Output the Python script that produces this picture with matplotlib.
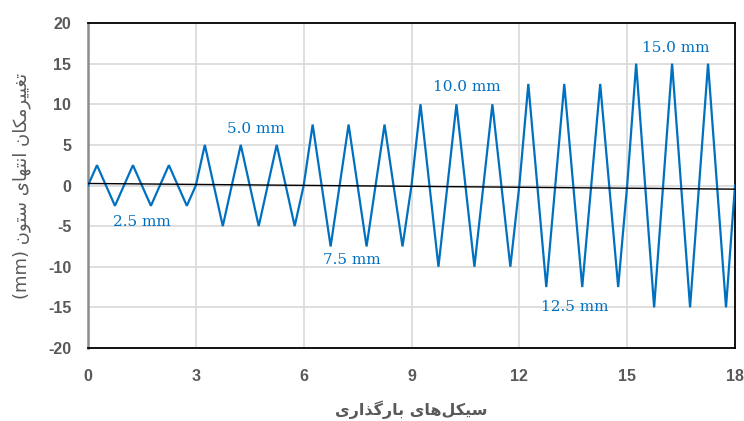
import matplotlib
matplotlib.use("Agg")
import matplotlib.pyplot as plt

plt.rcParams['axes.unicode_minus'] = False

# ---------------- data ----------------
cycle_amplitudes = [2.5, 2.5, 2.5, 5.0, 5.0, 5.0, 7.5, 7.5, 7.5,
                    10.0, 10.0, 10.0, 12.5, 12.5, 12.5, 15.0, 15.0, 15.0]
drift_x = [0, 18]
drift_y = [0.25, -0.45]
label_texts = ["2.5 mm", "5.0 mm", "7.5 mm", "10.0 mm", "12.5 mm", "15.0 mm"]
label_x = [1.5, 4.68, 7.34, 10.55, 13.54, 16.36]
label_y = [-4.45, 6.9, -9.2, 12.1, -14.9, 16.9]
xticks = [0, 3, 6, 9, 12, 15, 18]
yticks = [-20, -15, -10, -5, 0, 5, 10, 15, 20]

# waveform: each cycle 0 -> +A -> 0 -> -A, ending at 0
wx, wy = [], []
for i, a in enumerate(cycle_amplitudes):
    for k, v in enumerate([0, a, 0, -a]):
        wx.append(i + k * 0.25)
        wy.append(v)
wx.append(len(cycle_amplitudes))
wy.append(0)

# ---------------- simple Persian shaping ----------------
FORMS = {
    'ا': ('\uFE8D', '\uFE8E', None, None),
    'ب': ('\uFE8F', '\uFE90', '\uFE91', '\uFE92'),
    'ت': ('\uFE95', '\uFE96', '\uFE97', '\uFE98'),
    'ذ': ('\uFEAB', '\uFEAC', None, None),
    'ر': ('\uFEAD', '\uFEAE', None, None),
    'ز': ('\uFEAF', '\uFEB0', None, None),
    'س': ('\uFEB1', '\uFEB2', '\uFEB3', '\uFEB4'),
    'غ': ('\uFECD', '\uFECE', '\uFECF', '\uFED0'),
    'ک': ('\uFB8E', '\uFB8F', '\uFB90', '\uFB91'),
    'گ': ('\uFB92', '\uFB93', '\uFB94', '\uFB95'),
    'ل': ('\uFEDD', '\uFEDE', '\uFEDF', '\uFEE0'),
    'م': ('\uFEE1', '\uFEE2', '\uFEE3', '\uFEE4'),
    'ن': ('\uFEE5', '\uFEE6', '\uFEE7', '\uFEE8'),
    'ه': ('\uFEE9', '\uFEEA', '\uFEEB', '\uFEEC'),
    'و': ('\uFEED', '\uFEEE', None, None),
    'ی': ('\uFBFC', '\uFBFD', '\uFBFE', '\uFBFF'),
}


def shape_word(w):
    out = []
    n = len(w)
    for i, ch in enumerate(w):
        if ch not in FORMS:
            out.append(ch)
            continue
        prev = w[i - 1] if i > 0 else None
        nxt = w[i + 1] if i < n - 1 else None
        joins_prev = prev in FORMS and FORMS[prev][2] is not None
        joins_next = nxt in FORMS and FORMS[ch][2] is not None
        iso, fin, ini, med = FORMS[ch]
        if joins_prev and joins_next:
            out.append(med)
        elif joins_prev:
            out.append(fin)
        elif joins_next:
            out.append(ini)
        else:
            out.append(iso)
    return ''.join(c for c in out if c != '\u200c')


def persian(text):
    words = text.split(' ')
    shaped = [shape_word(w)[::-1] for w in words]
    return ' '.join(shaped[::-1])


ylabel_txt = '(mm) ' + persian('تغییرمکان انتهای ستون')
xlabel_txt = persian('سیکل\u200cهای بارگذاری')

# ---------------- figure ----------------
W, H = 744, 421
fig = plt.figure(figsize=(W / 100, H / 100), dpi=100)
ax = fig.add_axes([88 / W, 1 - 348 / H, (735 - 88) / W, (348 - 23) / H])

blue = '#0070C0'
ax.plot(wx, wy, color=blue, lw=1.6, zorder=3, solid_joinstyle='miter')
ax.plot(drift_x, drift_y, color='black', lw=1.0, zorder=4)

for t, x, y in zip(label_texts, label_x, label_y):
    ax.text(x, y, t, color=blue, fontsize=11, family='DejaVu Serif',
            ha='center', va='center', zorder=5)

ax.set_xlim(0, 18)
ax.set_ylim(-20, 20)
ax.set_xticks(xticks)
ax.set_yticks(yticks)
ax.grid(True, color='#D9D9D9', lw=1.2, zorder=0)
ax.set_axisbelow(True)
ax.tick_params(length=0)
ax.tick_params(axis='x', pad=15)
ax.tick_params(axis='y', pad=12)
for lbl in ax.get_xticklabels() + ax.get_yticklabels():
    lbl.set_fontweight('bold')
    lbl.set_fontsize(11.5)
    lbl.set_color('#595959')
    lbl.set_family('Liberation Sans')

for s in ['top', 'bottom', 'right']:
    ax.spines[s].set_color('black')
    ax.spines[s].set_linewidth(1.3)
ax.spines['left'].set_color('#8C8C8C')
ax.spines['left'].set_linewidth(1.8)

fig.text(411 / W, 1 - 410 / H, xlabel_txt, fontsize=11.5, fontweight='bold',
         color='#595959', family='DejaVu Sans', ha='center', va='center')
fig.text(22 / W, 1 - 185.5 / H, ylabel_txt, fontsize=13, rotation=90,
         color='#595959', family='DejaVu Sans', ha='center', va='center')

fig.savefig('out.png', dpi=100)
